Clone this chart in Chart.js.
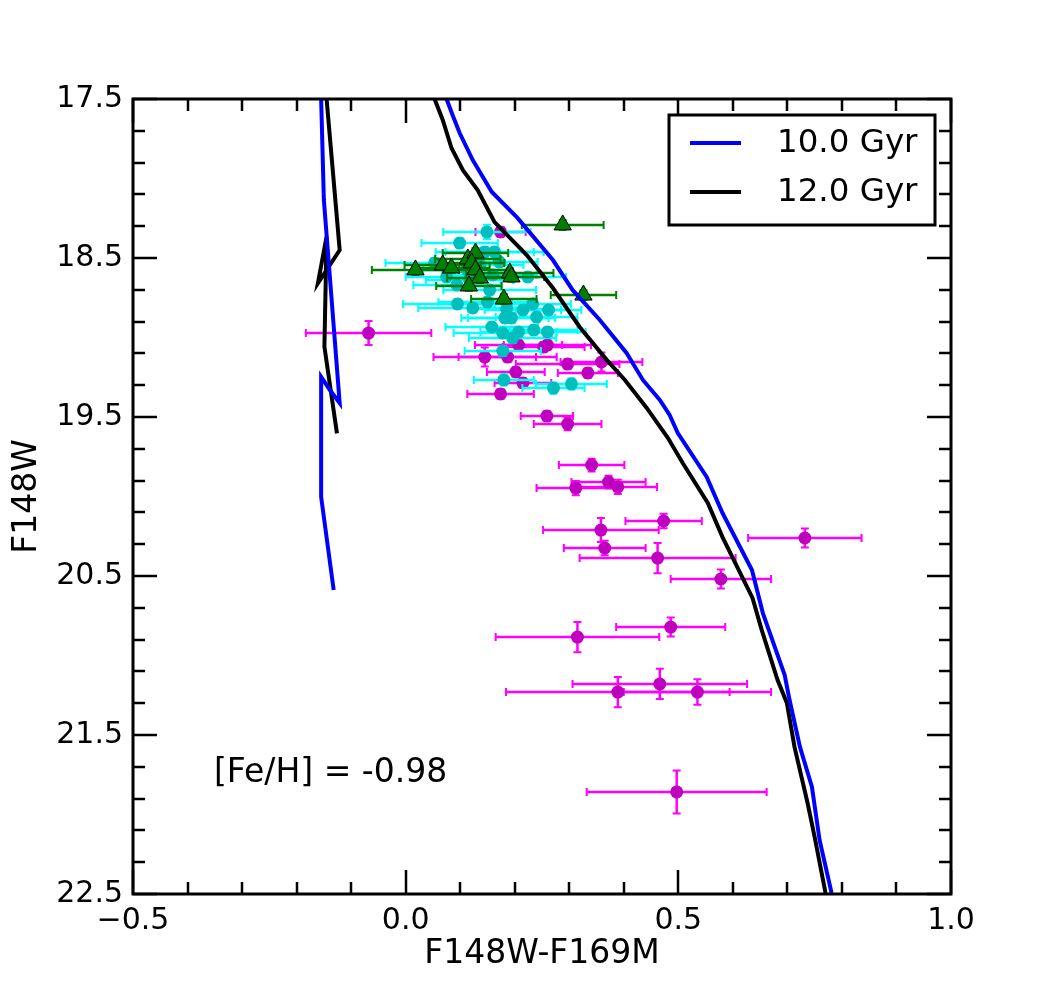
<!DOCTYPE html>
<html>
<head>
<meta charset="utf-8">
<script src="https://cdn.jsdelivr.net/npm/chart.js@4.4.0/dist/chart.umd.min.js"></script>
<style>
html, body { margin: 0; padding: 0; background: #fff; }
</style>
</head>
<body>
<canvas id="cmd" width="1056" height="994"></canvas>
<script>
// axis ticks
const xTicks = [-0.5, 0.0, 0.5, 1.0];
const yTicks = [17.5, 18.5, 19.5, 20.5, 21.5, 22.5];

// isochrones (colour, magnitude)
const blueLeftX = [-0.155, -0.150, -0.121, -0.139, -0.155, -0.155, -0.132];
const blueLeftY = [17.5, 18.135, 19.412, 19.330, 19.248, 20.003, 20.588];
const blueRightX = [0.075, 0.086, 0.099, 0.123, 0.158, 0.205, 0.270, 0.306, 0.356, 0.405, 0.435, 0.466, 0.484, 0.499, 0.552, 0.581, 0.635, 0.655, 0.695, 0.704, 0.723, 0.745, 0.759, 0.781];
const blueRightY = [17.5, 17.601, 17.714, 17.884, 18.085, 18.248, 18.513, 18.701, 18.890, 19.097, 19.267, 19.393, 19.487, 19.601, 19.877, 20.104, 20.462, 20.733, 21.123, 21.280, 21.575, 21.827, 22.160, 22.494];
const blackLeftX = [-0.145, -0.121, -0.161, -0.145, -0.149, -0.126];
const blackLeftY = [17.5, 18.450, 18.659, 18.366, 19.058, 19.603];
const blackRightX = [0.053, 0.068, 0.084, 0.105, 0.132, 0.163, 0.222, 0.270, 0.319, 0.369, 0.402, 0.442, 0.481, 0.508, 0.554, 0.581, 0.636, 0.653, 0.682, 0.699, 0.713, 0.737, 0.750, 0.770];
const blackRightY = [17.5, 17.632, 17.808, 17.947, 18.072, 18.274, 18.481, 18.689, 18.934, 19.142, 19.267, 19.443, 19.632, 19.789, 20.041, 20.255, 20.638, 20.840, 21.154, 21.298, 21.575, 21.928, 22.142, 22.494];

// magenta stars
const magX = [-0.068, 0.174, 0.207, 0.253, 0.260, 0.145, 0.187, 0.297, 0.359, 0.334, 0.202, 0.215, 0.174, 0.259, 0.297, 0.341, 0.372, 0.389, 0.312, 0.473, 0.358, 0.365, 0.462, 0.732, 0.578, 0.486, 0.315, 0.466, 0.389, 0.535, 0.497];
const magY = [18.972, 18.336, 19.047, 19.060, 19.047, 19.123, 19.123, 19.167, 19.154, 19.223, 19.217, 19.286, 19.355, 19.494, 19.544, 19.802, 19.909, 19.940, 19.947, 20.154, 20.211, 20.324, 20.387, 20.261, 20.519, 20.821, 20.884, 21.179, 21.230, 21.230, 21.858];
const magXErr = [0.115, 0.046, 0.080, 0.075, 0.080, 0.094, 0.090, 0.095, 0.075, 0.055, 0.053, 0.052, 0.061, 0.048, 0.062, 0.060, 0.068, 0.072, 0.072, 0.070, 0.106, 0.075, 0.143, 0.104, 0.092, 0.100, 0.150, 0.160, 0.205, 0.135, 0.165];
const magYErr = [0.075, 0.030, 0.030, 0.030, 0.030, 0.060, 0.030, 0.030, 0.060, 0.030, 0.030, 0.030, 0.030, 0.030, 0.040, 0.040, 0.040, 0.045, 0.045, 0.045, 0.075, 0.045, 0.095, 0.060, 0.060, 0.060, 0.095, 0.095, 0.095, 0.080, 0.135];

// cyan stars
const cyanX = [0.149, 0.099, 0.145, 0.163, 0.053, 0.075, 0.094, 0.160, 0.154, 0.224, 0.095, 0.123, 0.150, 0.185, 0.233, 0.215, 0.262, 0.182, 0.194, 0.240, 0.158, 0.178, 0.196, 0.207, 0.235, 0.260, 0.178, 0.304, 0.271, 0.180, 0.112, 0.136, 0.117, 0.172];
const cyanY = [18.336, 18.406, 18.462, 18.462, 18.531, 18.619, 18.670, 18.607, 18.701, 18.619, 18.789, 18.814, 18.777, 18.821, 18.789, 18.827, 18.827, 18.877, 18.877, 18.871, 18.934, 18.972, 19.003, 18.965, 18.953, 18.965, 19.085, 19.292, 19.318, 19.267, 18.575, 18.544, 18.638, 18.525];
const cyanXErr = [0.080, 0.070, 0.090, 0.090, 0.090, 0.075, 0.080, 0.080, 0.085, 0.070, 0.100, 0.100, 0.090, 0.070, 0.070, 0.070, 0.060, 0.080, 0.080, 0.075, 0.085, 0.090, 0.080, 0.070, 0.080, 0.070, 0.070, 0.065, 0.057, 0.055, 0.080, 0.080, 0.080, 0.070];
const cyanYErr = [0.045, 0.030, 0.030, 0.030, 0.030, 0.030, 0.030, 0.030, 0.030, 0.030, 0.030, 0.030, 0.030, 0.030, 0.030, 0.030, 0.030, 0.030, 0.030, 0.030, 0.030, 0.030, 0.030, 0.030, 0.030, 0.030, 0.030, 0.035, 0.035, 0.035, 0.030, 0.030, 0.030, 0.030];

// green triangles
const greenX = [0.288, 0.018, 0.068, 0.084, 0.114, 0.128, 0.121, 0.128, 0.136, 0.116, 0.191, 0.194, 0.180, 0.326];
const greenY = [18.292, 18.575, 18.544, 18.563, 18.506, 18.469, 18.531, 18.575, 18.626, 18.676, 18.594, 18.619, 18.758, 18.733];
const greenXErr = [0.075, 0.080, 0.070, 0.070, 0.060, 0.060, 0.060, 0.060, 0.060, 0.060, 0.080, 0.060, 0.060, 0.060];
const greenYErr = [0.030, 0.030, 0.030, 0.030, 0.030, 0.030, 0.030, 0.030, 0.030, 0.030, 0.030, 0.030, 0.030, 0.030];

const ageLabels = ['10.0 Gyr', '12.0 Gyr'];
const fehText = '[Fe/H] = -0.98';

const pts = (xs, ys) => xs.map((v, i) => ({x: v, y: ys[i]}));

function lineSet(label, xs, ys, color, inLegend) {
  return {
    type: 'scatter', label: label, data: pts(xs, ys), showLine: true,
    borderColor: color, borderWidth: 4, pointRadius: 0, fill: false,
    tension: 0, inLegend: inLegend
  };
}

function starSet(label, xs, ys, xe, ye, fill, errColor, style, r, edge) {
  return {
    type: 'scatter', label: label, data: pts(xs, ys), xErr: xe, yErr: ye,
    errColor: errColor, backgroundColor: fill, borderColor: edge || fill,
    borderWidth: edge ? 1 : 0, pointStyle: style, pointRadius: r, pointHoverRadius: r
  };
}

const errorBars = {
  id: 'errorBars',
  beforeDatasetDraw(chart, args) {
    const ds = chart.data.datasets[args.index];
    if (!ds.xErr) return;
    const {ctx, chartArea: a} = chart;
    const sx = chart.scales.x, sy = chart.scales.y;
    const cap = 4;
    ctx.save();
    ctx.beginPath();
    ctx.rect(a.left, a.top, a.right - a.left, a.bottom - a.top);
    ctx.clip();
    ctx.strokeStyle = ds.errColor;
    ctx.lineWidth = 2.5;
    ds.data.forEach((p, i) => {
      const px = sx.getPixelForValue(p.x), py = sy.getPixelForValue(p.y);
      const x0 = sx.getPixelForValue(p.x - ds.xErr[i]), x1 = sx.getPixelForValue(p.x + ds.xErr[i]);
      const y0 = sy.getPixelForValue(p.y - ds.yErr[i]), y1 = sy.getPixelForValue(p.y + ds.yErr[i]);
      ctx.beginPath();
      ctx.moveTo(x0, py); ctx.lineTo(x1, py);
      ctx.moveTo(px, y0); ctx.lineTo(px, y1);
      ctx.stroke();
      ctx.lineWidth = 2;
      ctx.beginPath();
      ctx.moveTo(x0, py - cap); ctx.lineTo(x0, py + cap);
      ctx.moveTo(x1, py - cap); ctx.lineTo(x1, py + cap);
      ctx.moveTo(px - cap, y0); ctx.lineTo(px + cap, y0);
      ctx.moveTo(px - cap, y1); ctx.lineTo(px + cap, y1);
      ctx.stroke();
      ctx.lineWidth = 2.5;
    });
    ctx.restore();
  }
};

// frame with inward ticks on all four sides, in the matplotlib way
const frame = {
  id: 'frame',
  afterDatasetsDraw(chart) {
    const {ctx, chartArea: a} = chart;
    const sx = chart.scales.x, sy = chart.scales.y;
    ctx.save();
    ctx.strokeStyle = '#000';
    ctx.lineWidth = 2.5;
    ctx.beginPath();
    for (let v = -0.5; v <= 1.0001; v += 0.1) {
      const major = xTicks.some(t => Math.abs(t - v) < 1e-6);
      const len = major ? 24 : 12;
      const px = Math.round(sx.getPixelForValue(v));
      ctx.moveTo(px, a.bottom); ctx.lineTo(px, a.bottom - len);
      ctx.moveTo(px, a.top); ctx.lineTo(px, a.top + len);
    }
    for (let v = 17.5; v <= 22.5001; v += 0.2) {
      const major = yTicks.some(t => Math.abs(t - v) < 1e-6);
      const len = major ? 24 : 12;
      const py = Math.round(sy.getPixelForValue(v));
      ctx.moveTo(a.left, py); ctx.lineTo(a.left + len, py);
      ctx.moveTo(a.right, py); ctx.lineTo(a.right - len, py);
    }
    ctx.stroke();
    ctx.lineWidth = 3;
    ctx.strokeRect(a.left, a.top, a.right - a.left, a.bottom - a.top);

    // metallicity note
    ctx.fillStyle = '#000';
    ctx.font = '33px "DejaVu Sans"';
    ctx.textBaseline = 'middle';
    ctx.textAlign = 'left';
    ctx.fillText(fehText, a.left + 81, a.top + 674);

    // legend box
    const items = chart.data.datasets.filter(d => d.inLegend);
    const bx = a.right - 282, by = a.top + 16, bw = 266, bh = 110;
    ctx.fillStyle = '#fff';
    ctx.fillRect(bx, by, bw, bh);
    ctx.lineWidth = 3;
    ctx.strokeRect(bx, by, bw, bh);
    ctx.font = '32.5px "DejaVu Sans"';
    items.forEach((d, i) => {
      const ly = by + 28 + i * 49;
      ctx.strokeStyle = d.borderColor;
      ctx.lineWidth = 4;
      ctx.beginPath();
      ctx.moveTo(bx + 21, ly); ctx.lineTo(bx + 72, ly);
      ctx.stroke();
      ctx.fillStyle = '#000';
      ctx.fillText(d.label, bx + 108, ly + 1);
    });
    ctx.restore();
  }
};

Chart.defaults.font.family = '"DejaVu Sans"';
Chart.defaults.color = '#000';

new Chart(document.getElementById('cmd'), {
  type: 'scatter',
  data: {
    datasets: [
      lineSet(ageLabels[0], blueRightX, blueRightY, '#0000ff', true),
      lineSet(ageLabels[1], blackRightX, blackRightY, '#000000', true),
      lineSet(ageLabels[0], blueLeftX, blueLeftY, '#0000ff', false),
      lineSet(ageLabels[1], blackLeftX, blackLeftY, '#000000', false),
      starSet('HB', greenX, greenY, greenXErr, greenYErr, '#008000', '#008000', 'triangle', 10, '#000'),
      starSet('members', cyanX, cyanY, cyanXErr, cyanYErr, '#00bfbf', '#00ffff', 'circle', 6.5),
      starSet('all', magX, magY, magXErr, magYErr, '#bf00bf', '#ff00ff', 'circle', 6.5)
    ]
  },
  options: {
    responsive: false,
    animation: false,
    events: [],
    layout: { padding: { top: 99, right: 105, left: 0, bottom: 0 } },
    plugins: { legend: { display: false }, tooltip: { enabled: false } },
    scales: {
      x: {
        type: 'linear', min: -0.5, max: 1.0,
        grid: { display: false, drawTicks: false },
        border: { display: false },
        afterBuildTicks: s => { s.ticks = xTicks.map(v => ({value: v})); },
        afterFit: s => { s.height = 100; },
        ticks: {
          autoSkip: false, maxRotation: 0, padding: 9, font: { size: 30 },
          callback: v => (v < 0 ? '\u2212' : '') + Math.abs(v).toFixed(1)
        },
        title: { display: true, text: 'F148W-F169M', font: { size: 33 }, padding: { top: 0, bottom: 20 } }
      },
      y: {
        type: 'linear', min: 17.5, max: 22.5, reverse: true,
        grid: { display: false, drawTicks: false },
        border: { display: false },
        afterBuildTicks: s => { s.ticks = yTicks.map(v => ({value: v})); },
        afterFit: s => { s.width = 133; },
        ticks: {
          autoSkip: false, padding: 10, font: { size: 30 },
          callback: v => v.toFixed(1)
        },
        title: { display: true, text: 'F148W', font: { size: 33 }, padding: { top: 8, bottom: 0 } }
      }
    }
  },
  plugins: [errorBars, frame]
});
</script>
</body>
</html>
